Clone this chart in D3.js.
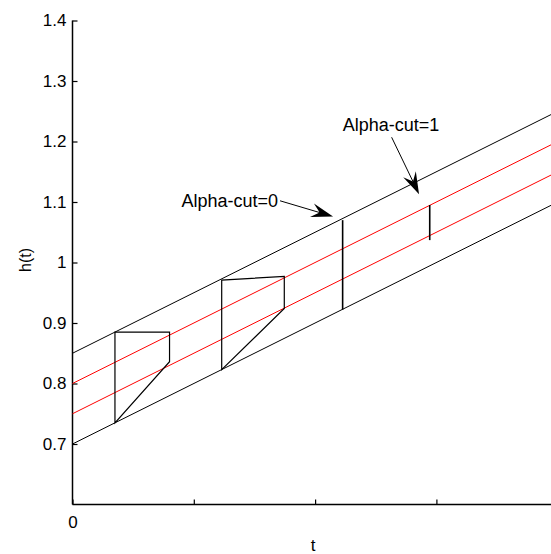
<!DOCTYPE html>
<html>
<head>
<meta charset="utf-8">
<script src="https://cdn.jsdelivr.net/npm/d3@7"></script>
<style>
  body { margin: 0; background: #fff; overflow: hidden; }
  text { font-family: "Liberation Sans", Arial, sans-serif; fill: #000; }
</style>
</head>
<body>
<script>
// ---- data ----
var tEnds = [0, 4];
var upperBlack = [0.85, 1.25];
var upperRed   = [0.80, 1.20];
var lowerRed   = [0.75, 1.15];
var lowerBlack = [0.70, 1.10];

var yTicks = [0.7, 0.8, 0.9, 1, 1.1, 1.2, 1.3, 1.4];
var xTicks = [0, 1, 2, 3];

// cut polygons (t, h)
var trap1T = [0.35, 0.35, 0.80, 0.80];
var trap1H = [0.735, 0.885, 0.885, 0.836];
var trap2T = [1.23, 1.23, 1.746, 1.746];
var trap2H = [0.823, 0.971, 0.977, 0.924];

// vertical cuts
var cutT = [2.227, 2.945];
var cutLow = [0.922, 1.037];
var cutHigh = [1.070, 1.095];

// annotations
var labels = ["Alpha-cut=0", "Alpha-cut=1"];
var labelT = [1.694, 2.228];
var labelH = [1.091, 1.217];
var arrowFromT = [1.711, 2.631], arrowFromH = [1.102, 1.207];
var arrowToT = [2.148, 2.857],   arrowToH = [1.076, 1.113];

var w = 551, h = 554;
var x = d3.scaleLinear().domain([0, 4]).range([72.5, 557.7]);
var y = d3.scaleLinear().domain([0.6, 1.4]).range([504.5, 20.5]);

var svg = d3.select("body").append("svg").attr("width", w).attr("height", h);

// axes
var yAxis = d3.axisLeft(y).tickValues(yTicks).tickSize(-5).tickPadding(6)
  .tickFormat(function(d){ return d === 1 ? "1" : d3.format(".1f")(d); });
var gy = svg.append("g").attr("transform", "translate(" + x(0) + ",0)").call(yAxis);

var xAxis = d3.axisBottom(x).tickValues(xTicks).tickSize(-5).tickPadding(11)
  .tickFormat(function(d){ return d === 0 ? "0" : ""; });
var gx = svg.append("g").attr("transform", "translate(0," + y(0.6) + ")").call(xAxis);

[gx, gy].forEach(function(g){
  g.select(".domain").attr("stroke", "#000").attr("stroke-width", 1.5);
  g.selectAll(".tick line").attr("stroke", "#000").attr("stroke-width", 1.2);
  g.selectAll(".tick text").attr("font-size", 17).attr("font-family", "Liberation Sans, Arial, sans-serif");
});
gy.select(".domain").attr("d", "M0," + y(0.6) + "V" + y(1.4));
gx.select(".domain").attr("d", "M" + x(0) + ",0H" + x(4));

// axis labels
svg.append("text").attr("x", 313).attr("y", 551).attr("text-anchor", "middle")
  .attr("font-size", 17).text("t");
svg.append("text").attr("transform", "translate(31,260) rotate(-90)")
  .attr("text-anchor", "middle").attr("font-size", 16).text("h(t)");

// boundary lines
var line = d3.line().x(function(d){ return x(d[0]); }).y(function(d){ return y(d[1]); });
var series = [
  { vals: upperBlack, color: "#000" },
  { vals: upperRed,   color: "#ff0000" },
  { vals: lowerRed,   color: "#ff0000" },
  { vals: lowerBlack, color: "#000" }
];
series.forEach(function(s){
  svg.append("path")
    .datum(tEnds.map(function(t, i){ return [t, s.vals[i]]; }))
    .attr("d", line).attr("fill", "none")
    .attr("stroke", s.color).attr("stroke-width", 1);
});

// cut polygons
[[trap1T, trap1H], [trap2T, trap2H]].forEach(function(p){
  var pts = p[0].map(function(t, i){ return [t, p[1][i]]; });
  svg.append("path").attr("d", line(pts) + "Z")
    .attr("fill", "none").attr("stroke", "#000").attr("stroke-width", 1.2);
});

// vertical cuts
cutT.forEach(function(t, i){
  svg.append("line")
    .attr("x1", x(t)).attr("x2", x(t))
    .attr("y1", y(cutLow[i])).attr("y2", y(cutHigh[i]))
    .attr("stroke", "#000").attr("stroke-width", 1.6);
});

// annotations
labels.forEach(function(txt, i){
  svg.append("text")
    .attr("x", x(labelT[i])).attr("y", y(labelH[i]))
    .attr("text-anchor", i === 0 ? "end" : "start")
    .attr("font-size", 18).text(txt);

  var x1 = x(arrowFromT[i]), y1 = y(arrowFromH[i]);
  var x2 = x(arrowToT[i]),   y2 = y(arrowToH[i]);
  var ang = Math.atan2(y2 - y1, x2 - x1);
  var len = 22, half = 7, notch = 8;
  var ux = Math.cos(ang), uy = Math.sin(ang);
  var bx = x2 - ux * len, by = y2 - uy * len;
  svg.append("line").attr("x1", x1).attr("y1", y1)
    .attr("x2", x2 - ux * 10).attr("y2", y2 - uy * 10)
    .attr("stroke", "#000").attr("stroke-width", 1);
  var head = [
    [x2, y2],
    [bx - uy * half, by + ux * half],
    [x2 - ux * (len - notch), y2 - uy * (len - notch)],
    [bx + uy * half, by - ux * half]
  ];
  svg.append("path").attr("d", "M" + head.join("L") + "Z").attr("fill", "#000");
});
</script>
</body>
</html>
